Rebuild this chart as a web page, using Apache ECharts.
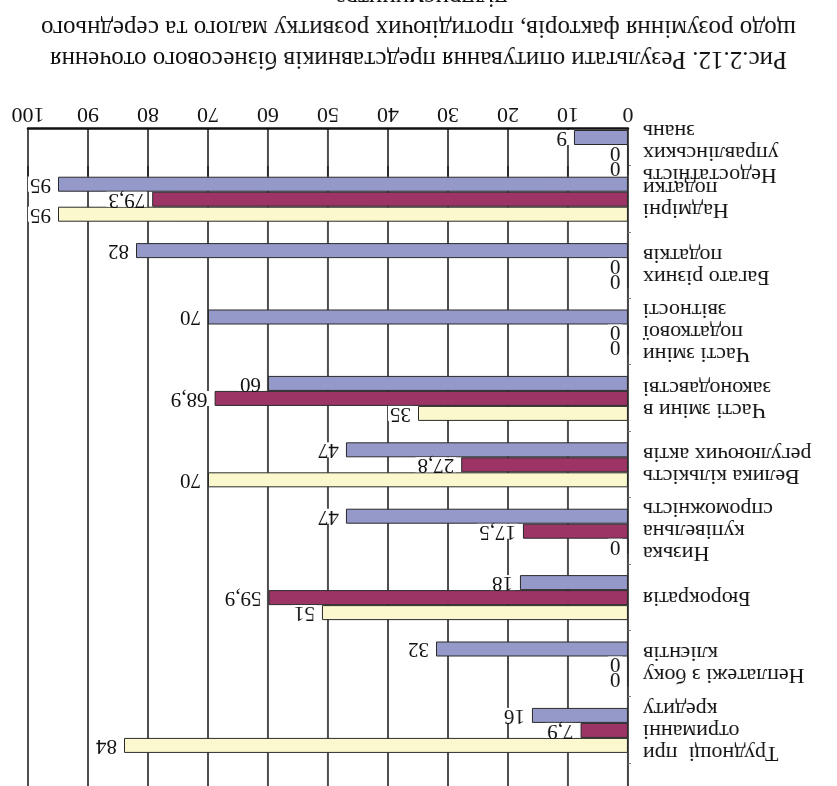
<!DOCTYPE html>
<html>
<head>
<meta charset="utf-8">
<script src="https://cdn.jsdelivr.net/npm/echarts@6/dist/echarts.min.js"></script>
<style>
  html, body { margin: 0; padding: 0; background: #fff; overflow: hidden; }
  /* the page shows the figure turned upside down */
  #chart { width: 837px; height: 786px; transform: rotate(180deg); }
</style>
</head>
<body>
<div id="chart"></div>
<script>
// Survey factors, listed from the top of the figure downwards
const categories = [
  'Труднощі  при\nотриманні\nкредиту',
  'Неплатежі з боку\nклієнтів',
  'Бюрократія',
  'Низька\nкупівельна\nспроможність',
  'Велика кількість\nрегулюючих актів',
  'Часті зміни в\nзаконодавстві',
  'Часті зміни\nподаткової\nзвітності',
  'Багато різних\nподатків',
  'Надмірні\nподатки',
  'Недостатність\nуправлінських\nзнань'
];
const blueValues   = [16, 32, 18, 47, 47, 60, 70, 82, 95, 9];
const maroonValues = [7.9, 0, 59.9, 17.5, 27.8, 68.9, 0, 0, 79.3, 0];
const yellowValues = [84, 0, 51, 0, 70, 35, 0, 0, 95, 0];
const xTickLabels  = ['0', '10', '20', '30', '40', '50', '60', '70', '80', '90', '100'];
const titleLines = [
  'Рис.2.12. Результати опитування представників бізнесового оточення',
  'щодо розуміння факторів, протидіючих розвитку малого та середнього',
  'підприємництва.'
];

const FONT = '"Liberation Serif", "Times New Roman", serif';
const palette = { yellow: '#fbf8cd', maroon: '#9c3466', blue: '#9599c9' };

const xMin = Number(xTickLabels[0]);
const xMax = Number(xTickLabels[xTickLabels.length - 1]);
const xStep = Number(xTickLabels[1]) - xMin;

// last factor sits in its own short band right above the value axis
const mainCount = categories.length - 1;

function barSeries(values, color, gridIdx) {
  return {
    type: 'bar',
    xAxisIndex: gridIdx,
    yAxisIndex: gridIdx,
    data: values,
    barWidth: 15,
    barGap: '0%',
    itemStyle: { color: color, borderColor: '#2a2a2a', borderWidth: 1 },
    label: {
      show: true,
      position: 'right',
      distance: 5,
      fontFamily: FONT,
      fontSize: 21,
      lineHeight: 15,
      color: '#111',
      backgroundColor: '#fff',
      padding: [0, 2],
      formatter: p => String(p.value).replace('.', ',')
    }
  };
}

function valueAxis(gridIdx, withLabels) {
  return {
    type: 'value',
    gridIndex: gridIdx,
    min: xMin,
    max: xMax,
    interval: xStep,
    axisLine: { show: withLabels, onZero: false, lineStyle: { color: '#111', width: 2.5 } },
    axisTick: { show: false },
    axisLabel: {
      show: withLabels,
      margin: 4,
      fontFamily: FONT,
      fontSize: 22,
      lineHeight: 22,
      color: '#111',
      formatter: v => xTickLabels[Math.round((v - xMin) / xStep)]
    },
    splitLine: { show: true, lineStyle: { color: '#222', width: 1.6 } }
  };
}

function categoryAxis(gridIdx, data, extra) {
  return Object.assign({
    type: 'category',
    gridIndex: gridIdx,
    data: data,
    inverse: true,
    axisLine: { show: true, lineStyle: { color: '#444', width: 2 } },
    axisTick: { show: true, length: 3, lineStyle: { color: '#777', width: 1 } },
    axisLabel: {
      margin: 15,
      fontFamily: FONT,
      fontSize: 22,
      lineHeight: 22,
      color: '#111',
      align: 'right',
      formatter: v => (v == null ? '' : v)
    },
    splitLine: { show: false }
  }, extra || {});
}

const chart = echarts.init(document.getElementById('chart'), null, { renderer: 'canvas' });

chart.setOption({
  backgroundColor: '#fff',
  animation: false,
  title: {
    text: titleLines.join('\n'),
    left: 'center',
    top: 712,
    padding: 0,
    textStyle: { fontFamily: FONT, fontSize: 25, lineHeight: 31, fontWeight: 'normal', color: '#111' }
  },
  grid: [
    { left: 209, right: 28, top: -44, bottom: 166, outerBoundsMode: 'none', containLabel: false },
    { left: 209, right: 28, top: 610, bottom: 129, outerBoundsMode: 'none', containLabel: false }
  ],
  xAxis: [valueAxis(0, false), valueAxis(1, true)],
  yAxis: [
    categoryAxis(0, categories.slice(0, mainCount), { min: -1 }),
    categoryAxis(1, categories.slice(mainCount), { axisTick: { show: false } })
  ],
  series: [
    barSeries(yellowValues.slice(0, mainCount), palette.yellow, 0),
    barSeries(maroonValues.slice(0, mainCount), palette.maroon, 0),
    barSeries(blueValues.slice(0, mainCount), palette.blue, 0),
    barSeries(yellowValues.slice(mainCount), palette.yellow, 1),
    barSeries(maroonValues.slice(mainCount), palette.maroon, 1),
    barSeries(blueValues.slice(mainCount), palette.blue, 1)
  ]
});
</script>
</body>
</html>
